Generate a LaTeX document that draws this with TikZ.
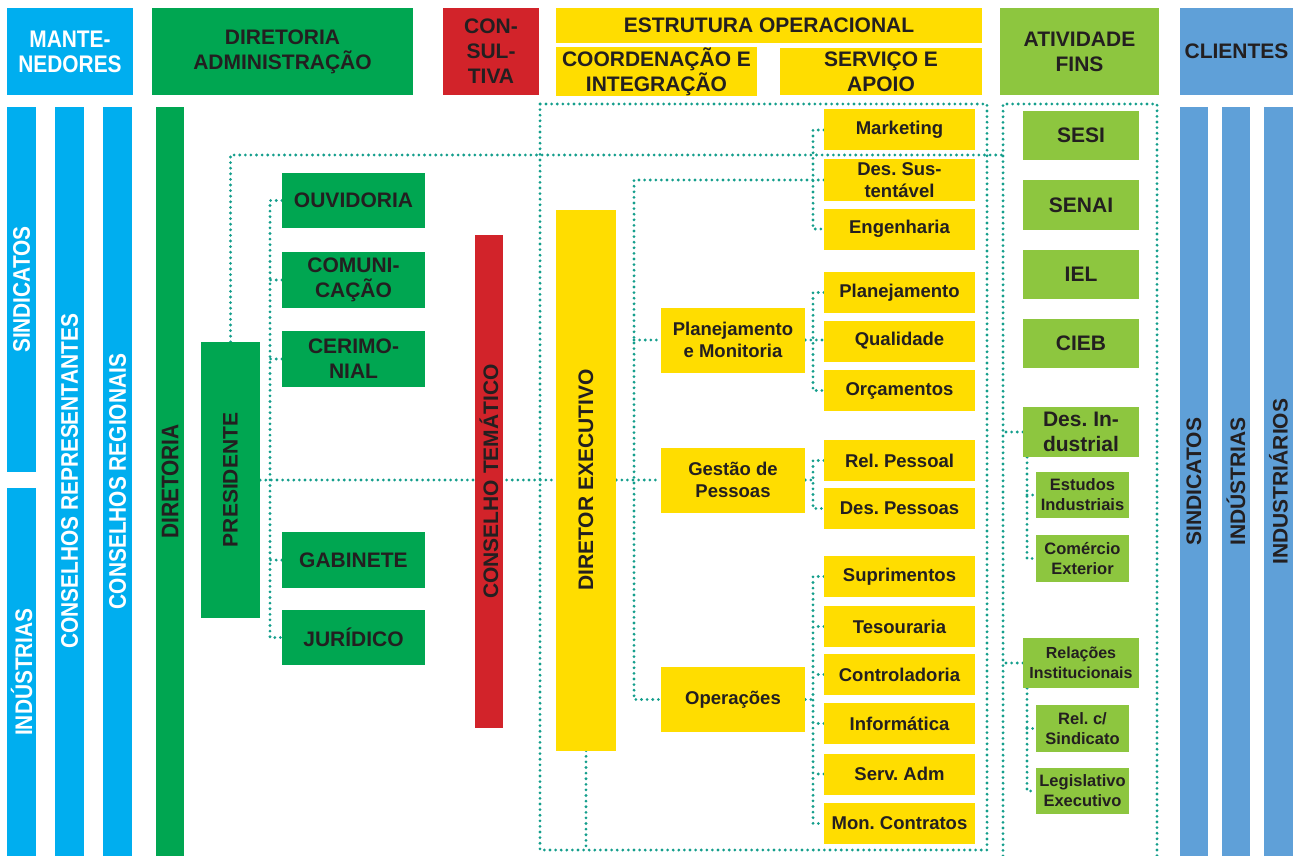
\documentclass[tikz,border=0pt]{standalone}
\usepackage{fontspec}
\setmainfont{Liberation Sans}
\newfontfamily\narrowfont[FakeStretch=0.87]{Liberation Sans}
\usetikzlibrary{backgrounds}
\frenchspacing

\definecolor{mantblue}{RGB}{0,174,239}
\definecolor{admgreen}{RGB}{0,166,81}
\definecolor{consred}{RGB}{210,35,42}
\definecolor{opyellow}{RGB}{255,221,0}
\definecolor{finsgreen}{RGB}{141,198,63}
\definecolor{cliblue}{RGB}{95,160,216}
\definecolor{dotteal}{RGB}{20,158,140}
\definecolor{ink}{RGB}{35,31,32}

\tikzset{
  bar/.style={rectangle, inner sep=0pt},
  dim/.style 2 args={minimum width=#1, minimum height=#2},
  block/.style={rectangle, inner sep=0pt, align=center, text=ink, font=\bfseries\fontsize{21}{25}\selectfont},
  subblock/.style={block, font=\bfseries\fontsize{18.5}{21.5}\selectfont},
  smallblock/.style={block, font=\bfseries\fontsize{16.5}{20}\selectfont},
  narrowtxt/.style={inner sep=0pt, align=center, text=white, font=\narrowfont\bfseries\fontsize{24}{25}\selectfont},
  coltxt/.style={rotate=90, inner sep=0pt, text=ink, font=\bfseries\fontsize{21}{25}\selectfont},
  link/.style={draw=dotteal, line width=3.1pt, line cap=round, dash pattern=on 0pt off 5.6pt},
}

\begin{document}
\begin{tikzpicture}[x=1pt,y=-1pt]
\useasboundingbox (0,0) rectangle (1296,856);

% cabecalho
\node[block, fill=mantblue, dim={126}{87}, narrowtxt] (mant) at (70,51.5) {MANTE-\\NEDORES};
\node[block, fill=admgreen, dim={261}{87}] (diradm) at (282.5,51.5) {DIRETORIA\\ADMINISTRAÇÃO};
\node[block, fill=consred, dim={96}{87}] (consult) at (491,51.5) {CON-\\SUL-\\TIVA};
\node[block, fill=opyellow, dim={426}{35}] (estop) at (769,25.5) {ESTRUTURA OPERACIONAL};
\node[block, fill=opyellow, dim={201}{47}] (coordint) at (656.5,71.5) {COORDENAÇÃO E\\INTEGRAÇÃO};
\node[block, fill=opyellow, dim={202}{47}] (servap) at (881,71.5) {SERVIÇO E\\APOIO};
\node[block, fill=finsgreen, dim={159}{87}] (ativfins) at (1079.5,51.5) {ATIVIDADE\\FINS};
\node[block, fill=cliblue, dim={113}{87}] (clientes) at (1236.5,51.5) {CLIENTES};

% mantenedores
\node[bar, fill=mantblue, dim={29}{365}] (sind) at (21.5,289.5) {};
\node[narrowtxt, rotate=90] (sind-t) at (sind) {SINDICATOS};
\node[bar, fill=mantblue, dim={29}{368}] (indu) at (21.5,672) {};
\node[narrowtxt, rotate=90] (indu-t) at (indu) {INDÚSTRIAS};
\node[bar, fill=mantblue, dim={29}{749}] (crep) at (69.5,481.5) {};
\node[narrowtxt, rotate=90] (crep-t) at (crep) {CONSELHOS REPRESENTANTES};
\node[bar, fill=mantblue, dim={29}{749}] (creg) at (117.5,481.5) {};
\node[narrowtxt, rotate=90] (creg-t) at (creg) {CONSELHOS REGIONAIS};

% diretoria administracao
\node[bar, fill=admgreen, dim={28}{749}] (dir) at (170,481.5) {};
\node[narrowtxt, rotate=90, text=ink] (dir-t) at (dir) {DIRETORIA};
\node[bar, fill=admgreen, dim={59}{276}] (pres) at (230.5,480) {};
\node[coltxt] (pres-t) at (pres) {PRESIDENTE};
\node[block, fill=admgreen, dim={143}{55}] (ouv) at (353.5,200.5) {OUVIDORIA};
\node[block, fill=admgreen, dim={143}{56}] (com) at (353.5,280) {COMUNI-\\CAÇÃO};
\node[block, fill=admgreen, dim={143}{56}] (cer) at (353.5,359) {CERIMO-\\NIAL};
\node[block, fill=admgreen, dim={143}{56}] (gab) at (353.5,560) {GABINETE};
\node[block, fill=admgreen, dim={143}{55}] (jur) at (353.5,637.5) {JURÍDICO};

% consultiva
\node[bar, fill=consred, dim={28}{493}] (ctem) at (489,481.5) {};
\node[coltxt] (ctem-t) at (ctem) {CONSELHO TEMÁTICO};

% estrutura operacional
\node[bar, fill=opyellow, dim={60}{541}] (dexec) at (586,480) {};
\node[coltxt] (dexec-t) at (dexec) {DIRETOR EXECUTIVO};
\node[subblock, fill=opyellow, dim={144}{65}] (pmon) at (733,340) {Planejamento\\e Monitoria};
\node[subblock, fill=opyellow, dim={144}{65}] (gpes) at (733,480) {Gestão de\\Pessoas};
\node[subblock, fill=opyellow, dim={144}{65}] (oper) at (733,699.5) {Operações};
\node[subblock, fill=opyellow, dim={151}{41}] (mkt) at (899.5,130) {Marketing};
\node[subblock, fill=opyellow, dim={151}{41}] (dsus) at (899.5,180) {Des. Sus-\\tentável};
\node[subblock, fill=opyellow, dim={151}{41}] (eng) at (899.5,229) {Engenharia};
\node[subblock, fill=opyellow, dim={151}{41}] (plan) at (899.5,292.5) {Planejamento};
\node[subblock, fill=opyellow, dim={151}{41}] (qual) at (899.5,341) {Qualidade};
\node[subblock, fill=opyellow, dim={151}{41}] (orc) at (899.5,390.5) {Orçamentos};
\node[subblock, fill=opyellow, dim={151}{41}] (relp) at (899.5,460.5) {Rel. Pessoal};
\node[subblock, fill=opyellow, dim={151}{41}] (desp) at (899.5,508.5) {Des. Pessoas};
\node[subblock, fill=opyellow, dim={151}{41}] (sup) at (899.5,576.5) {Suprimentos};
\node[subblock, fill=opyellow, dim={151}{41}] (tes) at (899.5,626.5) {Tesouraria};
\node[subblock, fill=opyellow, dim={151}{41}] (ctrl) at (899.5,674.5) {Controladoria};
\node[subblock, fill=opyellow, dim={151}{41}] (info) at (899.5,723.5) {Informática};
\node[subblock, fill=opyellow, dim={151}{41}] (sadm) at (899.5,774) {Serv. Adm};
\node[subblock, fill=opyellow, dim={151}{41}] (monc) at (899.5,823.5) {Mon. Contratos};

% atividade fins
\node[block, fill=finsgreen, dim={116}{49}] (sesi) at (1081,135.5) {SESI};
\node[block, fill=finsgreen, dim={116}{50}] (senai) at (1081,205) {SENAI};
\node[block, fill=finsgreen, dim={116}{49}] (iel) at (1081,274.5) {IEL};
\node[block, fill=finsgreen, dim={116}{49}] (cieb) at (1081,343.5) {CIEB};
\node[block, fill=finsgreen, dim={116}{50}] (desi) at (1081,432) {Des. In-\\dustrial};
\node[smallblock, fill=finsgreen, dim={93}{46}] (estd) at (1082.5,495) {Estudos\\Industriais};
\node[smallblock, fill=finsgreen, dim={93}{47}] (come) at (1082.5,558.5) {Comércio\\Exterior};
\node[smallblock, fill=finsgreen, dim={116}{50}, font=\bfseries\fontsize{16}{20}\selectfont] (reli) at (1081,663) {Relações\\Institucionais};
\node[smallblock, fill=finsgreen, dim={93}{47}] (relc) at (1082.5,728.5) {Rel. c/\\Sindicato};
\node[smallblock, fill=finsgreen, dim={93}{46}] (legi) at (1082.5,791) {Legislativo\\Executivo};

% clientes
\node[bar, fill=cliblue, dim={28}{749}] (csind) at (1194,481.5) {};
\node[coltxt] (csind-t) at (csind) {SINDICATOS};
\node[bar, fill=cliblue, dim={28}{749}] (cind) at (1236,481.5) {};
\node[coltxt] (cind-t) at (cind) {INDÚSTRIAS};
\node[bar, fill=cliblue, dim={29}{749}] (cinds) at (1278.5,481.5) {};
\node[coltxt] (cinds-t) at (cinds) {INDUSTRIÁRIOS};

\coordinate (op-nw) at (540,104);
\coordinate (op-se) at (987,850);
\coordinate (af-nw) at (1003,104);
\coordinate (af-se) at (1157,856);
\coordinate (topbus) at (1003,155);
\coordinate (pbus) at (270,0);
\coordinate (ebus) at (634,0);
\coordinate (sbus) at (813,0);
\coordinate (dbus) at (1027,0);

\begin{scope}[on background layer]
\draw[link] (op-nw) rectangle (op-se);
\draw[link] (af-nw |- af-se) -- (af-nw) -- (af-nw -| af-se) -- (af-se);

\draw[link] (pres.north) |- (topbus);
\draw[link] (pres.east) -- (dexec.west);
\draw[link] (ouv.west) -| (pbus |- jur.west) -- (jur.west);
\draw[link] (com.west) -- (pbus |- com.west);
\draw[link] (cer.west) -- (pbus |- cer.west);
\draw[link] (gab.west) -- (pbus |- gab.west);

\draw[link] (dsus.west) -| (ebus |- oper.west) -- (oper.west);
\draw[link] (ebus |- pmon.west) -- (pmon.west);
\draw[link] (dexec.east) -- (gpes.west);
\draw[link] (dexec.south) -- (dexec.south |- op-se);

\draw[link] (mkt.west) -| (sbus |- eng.west) -- (eng.west);
\draw[link] (plan.west) -| (sbus |- orc.west) -- (orc.west);
\draw[link] (pmon.east) -- (pmon.east -| qual.west);
\draw[link] (relp.west) -| (sbus |- desp.west) -- (desp.west);
\draw[link] (gpes.east) -- (sbus |- gpes.east);
\draw[link] (sup.west) -| (sbus |- monc.west) -- (monc.west);
\draw[link] (oper.east) -- (sbus |- oper.east);
\draw[link] (tes.west) -- (sbus |- tes.west);
\draw[link] (ctrl.west) -- (sbus |- ctrl.west);
\draw[link] (info.west) -- (sbus |- info.west);
\draw[link] (sadm.west) -- (sbus |- sadm.west);

\draw[link] (desi.west) -- (af-nw |- desi.west);
\draw[link] (reli.west) -- (af-nw |- reli.west);
\draw[link] (dbus |- desi.south) |- (come.west);
\draw[link] (dbus |- estd.west) -- (estd.west);
\draw[link] (dbus |- reli.south) |- (legi.west);
\draw[link] (dbus |- relc.west) -- (relc.west);
\end{scope}
\end{tikzpicture}
\end{document}
